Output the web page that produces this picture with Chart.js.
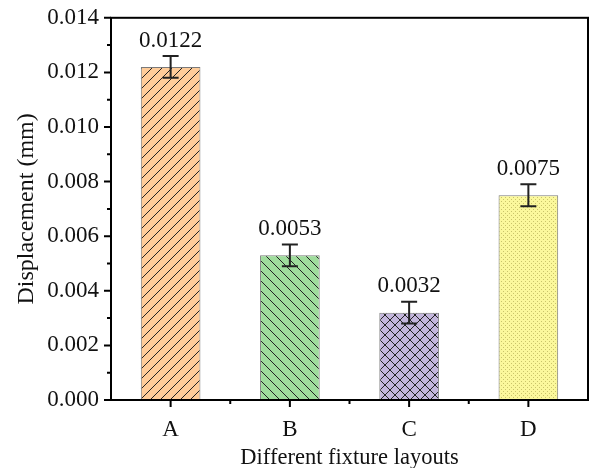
<!DOCTYPE html>
<html>
<head>
<meta charset="utf-8">
<script src="https://cdn.jsdelivr.net/npm/chart.js@4.4.1/dist/chart.umd.min.js"></script>
<style>
  html, body { margin: 0; padding: 0; background: #fff; }
  #wrap { width: 590px; height: 468px; }
</style>
</head>
<body>
<div id="wrap"><canvas id="chart" width="590" height="468"></canvas></div>
<script>
const categories = ['A', 'B', 'C', 'D'];
const displacement = [0.0122, 0.0053, 0.0032, 0.0075];
const errors = [0.0004, 0.0004, 0.0004, 0.0004];
const valueLabels = ['0.0122', '0.0053', '0.0032', '0.0075'];
const yTicks = [0, 0.002, 0.004, 0.006, 0.008, 0.010, 0.012, 0.014];

const FONT = '"Liberation Serif", "Times New Roman", serif';

// hatch patterns, built on small offscreen tiles
function makePattern(fill, kind) {
  const c = document.createElement('canvas');
  const s = kind === 'dots' ? 4 : 10;
  c.width = s; c.height = s;
  const g = c.getContext('2d');
  g.fillStyle = fill;
  g.fillRect(0, 0, s, s);
  g.strokeStyle = '#222';
  g.lineWidth = 1;
  if (kind === 'up' || kind === 'cross') {
    g.beginPath();
    g.moveTo(-1, s + 1); g.lineTo(s + 1, -1);
    g.moveTo(-1, 1); g.lineTo(1, -1);
    g.moveTo(s - 1, s + 1); g.lineTo(s + 1, s - 1);
    g.stroke();
  }
  if (kind === 'down' || kind === 'cross') {
    g.beginPath();
    g.moveTo(-1, -1); g.lineTo(s + 1, s + 1);
    g.moveTo(s - 1, -1); g.lineTo(s + 1, 1);
    g.moveTo(-1, s - 1); g.lineTo(1, s + 1);
    g.stroke();
  }
  if (kind === 'dots') {
    g.fillStyle = '#c9c46a';
    g.fillRect(1, 1, 1, 1);
    g.fillRect(3, 3, 1, 1);
  }
  return g.createPattern(c, 'repeat');
}

const fills = [
  makePattern('#ffcc99', 'up'),
  makePattern('#9fdc9c', 'down'),
  makePattern('#c3b6dc', 'cross'),
  makePattern('#fbf89c', 'dots')
];

const decorPlugin = {
  id: 'decor',
  afterDatasetsDraw(chart) {
    const ctx = chart.ctx;
    const area = chart.chartArea;
    const x = chart.scales.x;
    const y = chart.scales.y;
    ctx.save();

    // error bars and value labels
    ctx.strokeStyle = '#222';
    ctx.lineWidth = 2;
    ctx.fillStyle = '#111';
    ctx.font = '23px ' + FONT;
    ctx.textAlign = 'center';
    ctx.textBaseline = 'bottom';
    displacement.forEach((v, i) => {
      const cx = x.getPixelForValue(i);
      const top = y.getPixelForValue(v + errors[i]);
      const bot = y.getPixelForValue(v - errors[i]);
      ctx.beginPath();
      ctx.moveTo(cx, top); ctx.lineTo(cx, bot);
      ctx.moveTo(cx - 8, top); ctx.lineTo(cx + 8, top);
      ctx.moveTo(cx - 8, bot); ctx.lineTo(cx + 8, bot);
      ctx.stroke();
      ctx.fillText(valueLabels[i], cx, top - 4);
    });

    // frame
    ctx.strokeStyle = '#000';
    ctx.lineWidth = 2;
    ctx.strokeRect(area.left, area.top, area.right - area.left, area.bottom - area.top);

    // y ticks (major + minor), outward
    ctx.beginPath();
    for (let k = 0; k < yTicks.length; k++) {
      const py = y.getPixelForValue(yTicks[k]);
      ctx.moveTo(area.left, py); ctx.lineTo(area.left - 7, py);
      if (k < yTicks.length - 1) {
        const pm = y.getPixelForValue((yTicks[k] + yTicks[k + 1]) / 2);
        ctx.moveTo(area.left, pm); ctx.lineTo(area.left - 4, pm);
      }
    }
    // x ticks
    for (let i = 0; i < categories.length; i++) {
      const px = x.getPixelForValue(i);
      ctx.moveTo(px, area.bottom); ctx.lineTo(px, area.bottom + 7);
      if (i < categories.length - 1) {
        const pm = x.getPixelForValue(i + 0.5);
        ctx.moveTo(pm, area.bottom); ctx.lineTo(pm, area.bottom + 4);
      }
    }
    ctx.stroke();
    ctx.restore();
  }
};

new Chart(document.getElementById('chart'), {
  type: 'bar',
  data: {
    labels: categories,
    datasets: [{
      data: displacement,
      backgroundColor: fills,
      borderColor: '#7a7a7a',
      borderWidth: 1,
      categoryPercentage: 1,
      barPercentage: 0.5
    }]
  },
  plugins: [decorPlugin],
  options: {
    responsive: false,
    animation: false,
    events: [],
    layout: { padding: { top: 15, right: 2, left: 8, bottom: 0 } },
    plugins: { legend: { display: false }, tooltip: { enabled: false } },
    scales: {
      x: {
        grid: { display: false },
        border: { display: false },
        ticks: { color: '#111', font: { family: FONT, size: 23 }, padding: 8 },
        title: { display: true, text: 'Different fixture layouts', color: '#111', font: { family: FONT, size: 22.5 }, padding: { top: 8, bottom: -4 } },
        afterFit(s) { s.height = 68; }
      },
      y: {
        min: 0,
        max: 0.014,
        grid: { display: false },
        border: { display: false },
        afterBuildTicks(s) { s.ticks = yTicks.map(v => ({ value: v })); },
        ticks: {
          color: '#111',
          font: { family: FONT, size: 23 },
          padding: 4,
          callback: v => v.toFixed(3)
        },
        title: { display: true, text: 'Displacement (mm)', color: '#111', font: { family: FONT, size: 24 }, padding: { bottom: 2 } },
        afterFit(s) { s.width = 103; }
      }
    }
  }
});
</script>
</body>
</html>
